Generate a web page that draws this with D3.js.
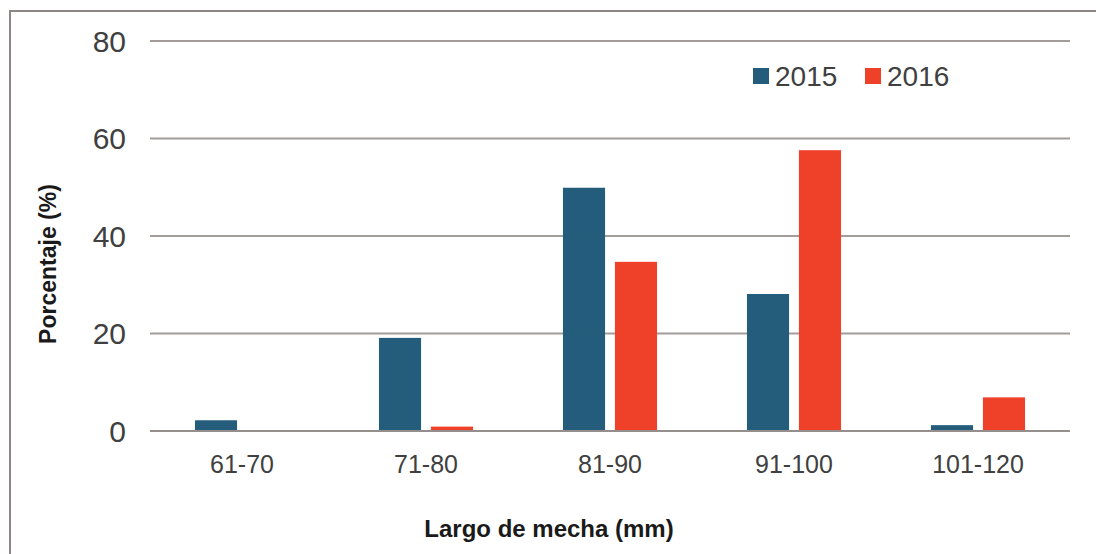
<!DOCTYPE html>
<html>
<head>
<meta charset="utf-8">
<script src="https://cdn.jsdelivr.net/npm/d3@7"></script>
<style>
  html, body { margin: 0; padding: 0; background: #fff; }
  svg { display: block; }
  text { font-family: "Liberation Sans", Arial, sans-serif; }
</style>
</head>
<body>
<svg id="chart" width="1096" height="554"></svg>
<script>
// Wool staple length distribution by year
const categories = ["61-70", "71-80", "81-90", "91-100", "101-120"];
const seriesNames = ["2015", "2016"];
const values2015 = [2.2, 19.1, 49.9, 28.1, 1.2];
const values2016 = [0, 0.9, 34.7, 57.6, 6.9];
const yTicks = [0, 20, 40, 60, 80];
const colors = ["#245d7b", "#ef412a"];

const seriesValues = [values2015, values2016];
const rows = categories.map((c, i) => ({
  cat: c,
  vals: seriesNames.map((s, j) => ({ name: s, value: seriesValues[j][i] }))
}));

const svg = d3.select("#chart");

const x = d3.scaleBand().domain(categories).range([150, 1070]).padding(0);
const xInner = d3.scaleBand().domain(seriesNames)
  .range([0, x.bandwidth()]).paddingInner(0.19).paddingOuter(0.865);
const y = d3.scaleLinear().domain([0, 80]).range([431, 41]);
const color = d3.scaleOrdinal().domain(seriesNames).range(colors);

// outer frame (open to the right and bottom)
svg.append("path")
  .attr("d", "M10,560 V11 H1100")
  .attr("fill", "none")
  .attr("stroke", "#8c8685")
  .attr("stroke-width", 2);

// horizontal gridlines
svg.append("g").selectAll("line")
  .data(yTicks)
  .join("line")
  .attr("x1", 150).attr("x2", 1070)
  .attr("y1", d => y(d)).attr("y2", d => y(d))
  .attr("stroke", "#a29c9a")
  .attr("stroke-width", 2);

// y tick labels
svg.append("g").selectAll("text")
  .data(yTicks)
  .join("text")
  .attr("x", 126)
  .attr("y", d => y(d))
  .attr("dy", "0.36em")
  .attr("text-anchor", "end")
  .attr("font-size", 30)
  .attr("fill", "#404040")
  .text(d => d);

// bars
const groups = svg.append("g").selectAll("g")
  .data(rows)
  .join("g")
  .attr("transform", d => `translate(${x(d.cat)},0)`);

groups.selectAll("rect")
  .data(d => d.vals.filter(v => v.value > 0))
  .join("rect")
  .attr("x", d => xInner(d.name))
  .attr("width", xInner.bandwidth())
  .attr("y", d => y(d.value))
  .attr("height", d => y(0) - y(d.value))
  .attr("fill", d => color(d.name));

// baseline redrawn over the bars
svg.append("line")
  .attr("x1", 150).attr("x2", 1070)
  .attr("y1", y(0)).attr("y2", y(0))
  .attr("stroke", "#948e8c")
  .attr("stroke-width", 2);

// x tick labels
svg.append("g").selectAll("text")
  .data(categories)
  .join("text")
  .attr("x", d => x(d) + x.bandwidth() / 2)
  .attr("y", 473)
  .attr("text-anchor", "middle")
  .attr("font-size", 25)
  .attr("fill", "#404040")
  .text(d => d);

// axis titles
svg.append("text")
  .attr("x", 549)
  .attr("y", 537)
  .attr("text-anchor", "middle")
  .attr("font-size", 24)
  .attr("font-weight", "bold")
  .attr("fill", "#1a1a1a")
  .text("Largo de mecha (mm)");

svg.append("text")
  .attr("transform", "translate(56,264) rotate(-90)")
  .attr("text-anchor", "middle")
  .attr("font-size", 23)
  .attr("font-weight", "bold")
  .attr("fill", "#1a1a1a")
  .text("Porcentaje (%)");

// legend
const legendX = [753, 865];
const legend = svg.append("g").selectAll("g")
  .data(seriesNames)
  .join("g")
  .attr("transform", (d, i) => `translate(${legendX[i]},68)`);
legend.append("rect")
  .attr("width", 16).attr("height", 16)
  .attr("fill", d => color(d));
legend.append("text")
  .attr("x", 22)
  .attr("y", 18)
  .attr("font-size", 28)
  .attr("fill", "#404040")
  .text(d => d);
</script>
</body>
</html>
